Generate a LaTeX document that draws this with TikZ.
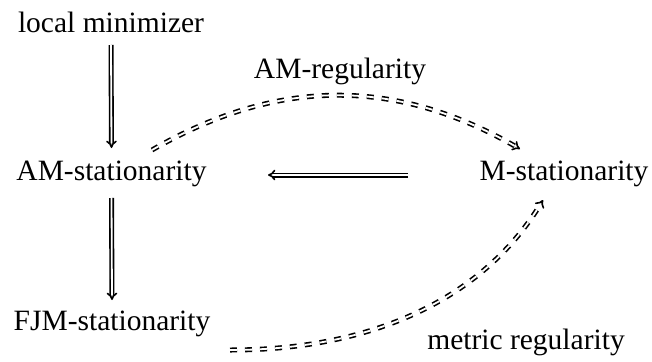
\documentclass[tikz,border=0pt]{standalone}
\usepackage{fontspec}
\setmainfont{Liberation Serif}
\usetikzlibrary{arrows.meta}
\begin{document}
\begin{tikzpicture}[x=1pt,y=-1pt,
  lbl/.style={anchor=base, inner sep=0pt, font=\fontsize{29.5}{35}\selectfont},
  imp/.style={double, double distance=1.8pt, line width=1.6pt, -{Implies}},
  dimp/.style={imp, dash pattern=on 7pt off 8pt}]
\useasboundingbox (0,0) rectangle (652,361);
\node[lbl] (lm) at (111,33) {local minimizer};
\node[lbl] (am) at (111.5,180) {AM-stationarity};
\node[lbl] (ms) at (564,180) {M-stationarity};
\node[lbl] (fjm) at (112,330) {FJM-stationarity};
\node[lbl] (amr) at (340,78) {AM-regularity};
\node[lbl] (mr) at (526,349) {metric regularity};
% anchor points of the connectors
\coordinate (lmS) at ([yshift=-12pt]lm.base);
\coordinate (amN) at ([yshift=32pt]am.base);
\coordinate (amS) at ([yshift=-18pt]am.base);
\coordinate (fjmN) at ([yshift=30pt]fjm.base);
\coordinate (amE) at ([xshift=156.5pt,yshift=5pt]am.base);
\coordinate (msW) at ([xshift=-156pt,yshift=5pt]ms.base);
\coordinate (amNE) at ([xshift=40.5pt,yshift=30pt]am.base);
\coordinate (msNW) at ([xshift=-44pt,yshift=31pt]ms.base);
\coordinate (fjmSE) at ([xshift=118pt,yshift=-20pt]fjm.base);
\coordinate (msSW) at ([xshift=-21pt,yshift=-20pt]ms.base);
\draw[imp] (lmS) -- (amN);
\draw[imp] (amS) -- (fjmN);
\draw[imp] (msW) -- (amE);
\draw[dimp] (amNE) .. controls +(125,-72) and +(-125,-72) .. (msNW);
\draw[dimp] (fjmSE) .. controls +(150,0) and +(-57,94) .. (msSW);
\end{tikzpicture}
\end{document}
